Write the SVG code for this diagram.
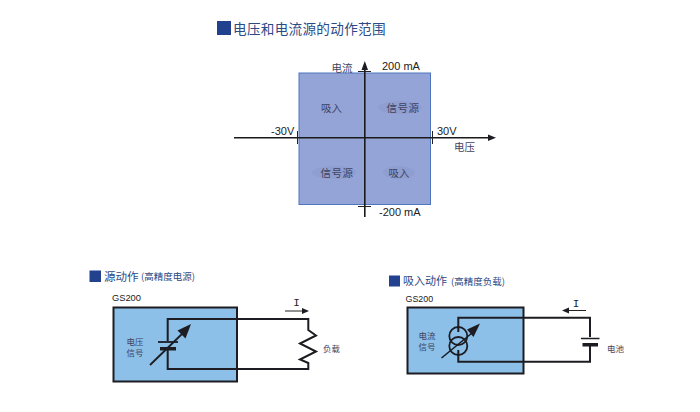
<svg xmlns="http://www.w3.org/2000/svg" width="700" height="412" viewBox="0 0 700 412">
<defs>
<style>
text{font-family:"Noto Sans CJK SC","Liberation Sans",sans-serif;fill:#2a2a35}
.lat{font-family:"Liberation Sans",Arial,sans-serif;font-size:11px;fill:#222}
.cjk{font-family:"Noto Sans CJK SC",sans-serif;font-size:10.5px;fill:#3f4360}
.tiny{font-size:8.500px}
.cur{font-family:"Liberation Mono",monospace;font-size:11px;fill:#222;text-anchor:middle}
.head{fill:#2c4a86}
.ax{stroke:#1a1a1a;stroke-width:1.600;fill:none}
.thin{stroke:#222;stroke-width:1;fill:none}
.wire{stroke:#1c1c22;stroke-width:2;fill:none}
.box{stroke:#1c1c22;stroke-width:2;fill:#8cc0e8}
.fill{fill:#1c1c22}
.patch{fill:#8f9ed0}
</style>
</defs>
<rect width="700" height="412" fill="#fff"/>
<g id="range-title">
<rect x="217" y="21" width="14" height="14" fill="#22418f"/>
<text x="233" y="34" font-size="13.600" class="head" letter-spacing="0.3">电压和电流源的动作范围</text>
</g>
<g id="range-area">
<rect x="299" y="73" width="131.500" height="131.500" fill="#95a4d6" stroke="#4f74c0" stroke-width="1"/>
<ellipse cx="400" cy="107.500" rx="22" ry="6.500" class="patch"/>
<ellipse cx="334" cy="172.500" rx="22" ry="6.500" class="patch"/>
<ellipse cx="399" cy="172.500" rx="16" ry="6.500" class="patch"/>
</g>
<g id="quadrant-labels">
<text x="331.500" y="111.500" class="cjk" text-anchor="middle">吸入</text>
<text x="403" y="111.500" class="cjk" text-anchor="middle" letter-spacing="0.5">信号源</text>
<text x="337" y="176.500" class="cjk" text-anchor="middle" letter-spacing="0.5">信号源</text>
<text x="399" y="176.500" class="cjk" text-anchor="middle">吸入</text>
</g>
<g id="axes">
<path class="ax" d="M234 137.800H490M364.800 64V217"/>
<path class="fill" d="M496 137.800L488 134.500V141ZM364.800 61L361.500 70H368Z"/>
<path class="thin" d="M358 71.500H371M358 206.500H371M297.500 131V144M432.500 131V144"/>
<text x="342" y="71.500" class="cjk" text-anchor="middle">电流</text>
<text x="464.500" y="151" class="cjk" text-anchor="middle">电压</text>
<text x="382" y="69.500" class="lat">200 mA</text>
<text x="379" y="216" class="lat">-200 mA</text>
<text x="271" y="135" class="lat">-30V</text>
<text x="437" y="135" class="lat">30V</text>
</g>
<g id="source-section">
<rect x="89.500" y="270.500" width="11.500" height="11.500" fill="#22418f"/>
<text x="104" y="281" font-size="11.500" class="head">源动作</text>
<text x="141" y="280" font-size="9.500" class="head">(高精度电源)</text>
<text x="112" y="301" class="lat" style="font-size:9.300px">GS200</text>
</g>
<g id="source-unit">
<rect x="113.500" y="307.500" width="123.500" height="74" class="box"/>
<text x="135" y="345" text-anchor="middle" class="cjk tiny">电压</text>
<text x="135" y="356" text-anchor="middle" class="cjk tiny">信号</text>
</g>
<g id="source-circuit">
<path class="wire" d="M167.700 341V319H308.300V330L316 335.500L300 343.500L316 351.500L300 359.500L308.300 363V369H167.700V349"/>
<path d="M158 342H178" stroke="#1c1c22" stroke-width="1.800"/>
<rect x="160" y="347" width="16" height="3.500" class="fill"/>
<path d="M150 365L184 332" stroke="#1c1c22" stroke-width="1.800"/>
<path class="fill" d="M191 324L177.500 330.500L185.500 338.500Z"/>
<path class="thin" d="M285 311H305"/>
<path class="fill" d="M309 311L302 308V314Z"/>
<text x="296.500" y="306" class="cur">I</text>
<text x="323" y="351.500" class="cjk tiny">负载</text>
</g>
<g id="sink-section">
<rect x="389" y="275.500" width="11" height="11" fill="#22418f"/>
<text x="403" y="285" font-size="11" class="head">吸入动作</text>
<text x="451" y="284.500" font-size="9.500" class="head">(高精度负载)</text>
<text x="405.500" y="302" class="lat" style="font-size:8.900px">GS200</text>
</g>
<g id="sink-unit">
<rect x="407.500" y="307.500" width="116" height="66" class="box"/>
<text x="427" y="338.500" text-anchor="middle" class="cjk tiny">电流</text>
<text x="427" y="350" text-anchor="middle" class="cjk tiny">信号</text>
</g>
<g id="sink-circuit">
<path class="wire" d="M458.300 332V317.700H590V337M590 345V361.700H458.300V350"/>
<circle cx="458.300" cy="336" r="9" fill="none" stroke="#1c1c22" stroke-width="1.800"/>
<circle cx="458.300" cy="346" r="9" fill="none" stroke="#1c1c22" stroke-width="1.800"/>
<path d="M441.500 358L472 333" stroke="#1c1c22" stroke-width="1.600"/>
<path class="fill" d="M480 323.500L467 329.500L473.500 337Z"/>
<path d="M581 338.500H599.500" stroke="#1c1c22" stroke-width="1.500"/>
<rect x="582.500" y="343" width="15.500" height="3.500" class="fill"/>
<path class="thin" d="M566 310.500H586"/>
<path class="fill" d="M562 310.500L569 307.500V313.500Z"/>
<text x="576" y="306.500" class="cur">I</text>
<text x="607" y="351.500" class="cjk tiny">电池</text>
</g>
</svg>
